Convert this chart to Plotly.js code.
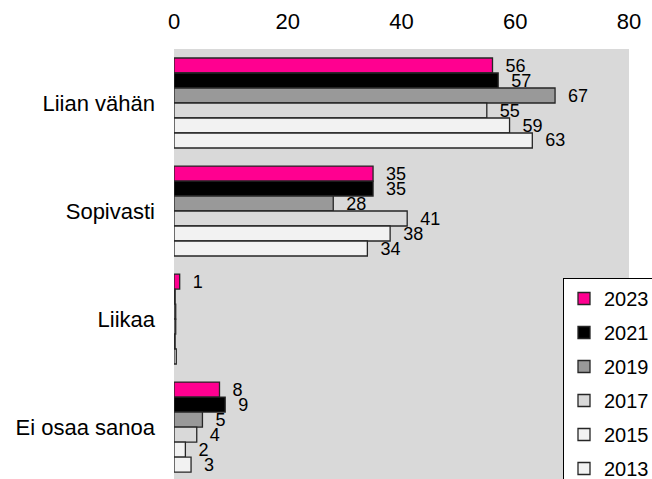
<!DOCTYPE html>
<html>
<head>
<meta charset="utf-8">
<script src="https://cdn.plot.ly/plotly-3.0.1.min.js"></script>
<style>html,body{margin:0;padding:0;background:#fff;}#chart{width:652px;height:479px;}</style>
</head>
<body>
<div id="chart"></div>
<script>
const categories = ["Liian vähän", "Sopivasti", "Liikaa", "Ei osaa sanoa"];
const years = ["2023", "2021", "2019", "2017", "2015", "2013"];
const v2023 = [56, 35, 1, 8];
const v2021 = [57, 35, 0.2, 9];
const v2019 = [67, 28, 0.3, 5];
const v2017 = [55, 41, 0.3, 4];
const v2015 = [59, 38, 0.2, 2];
const v2013 = [63, 34, 0.4, 3];
const xTicks = [0, 20, 40, 60, 80];

const series = [v2023, v2021, v2019, v2017, v2015, v2013];
const colors = ["#FF0090", "#000000", "#999999", "#D9D9D9", "#F2F2F2", "#F2F2F2"];

const traces = series.map((vals, i) => ({
  type: "bar",
  orientation: "h",
  name: years[i],
  legendgroup: years[i],
  y: categories,
  x: vals,
  text: vals.map(v => v >= 0.5 ? "\u00a0\u00a0" + String(Math.round(v)) : ""),
  textposition: "outside",
  constraintext: "none",
  cliponaxis: false,
  textfont: {family: "Liberation Sans, Arial, sans-serif", size: 18, color: "#000"},
  marker: {color: colors[i], line: {color: "#262626", width: 1.3}},
  hoverinfo: "x+name"
}));

const layout = {
  width: 652,
  height: 479,
  margin: {l: 174, r: 23, t: 49, b: 0, autoexpand: false},
  paper_bgcolor: "#ffffff",
  plot_bgcolor: "#D9D9D9",
  font: {family: "Liberation Sans, Arial, sans-serif", size: 22, color: "#000"},
  barmode: "group",
  bargap: 0.167,
  bargroupgap: 0,
  showlegend: true,
  legend: {
    xref: "paper",
    yanchor: "top",
    xanchor: "left",
    traceorder: "grouped",
    tracegroupgap: 5,
    bgcolor: "#ffffff",
    bordercolor: "#000000",
    borderwidth: 1,
    font: {size: 20, color: "#000"}
  },
  xaxis: {
    side: "top",
    range: [0, 80],
    tickvals: xTicks,
    ticktext: xTicks.map(String),
    showgrid: false,
    zeroline: false,
    showline: false,
    ticks: "",
    ticklabelstandoff: 15,
    tickfont: {size: 22}
  },
  yaxis: {
    range: [3.481, -0.5],
    showgrid: false,
    zeroline: false,
    showline: false,
    ticks: "",
    ticklabelstandoff: 18,
    tickfont: {size: 22}
  }
};

// legend position in paper coords: left border at ~563px, top border at ~278px
layout.legend.x = (563 - 174) / (652 - 174 - 23);
layout.legend.y = 1 - (278 - 49) / (479 - 49);

Plotly.newPlot("chart", traces, layout, {displayModeBar: false, staticPlot: true});
</script>
</body>
</html>
